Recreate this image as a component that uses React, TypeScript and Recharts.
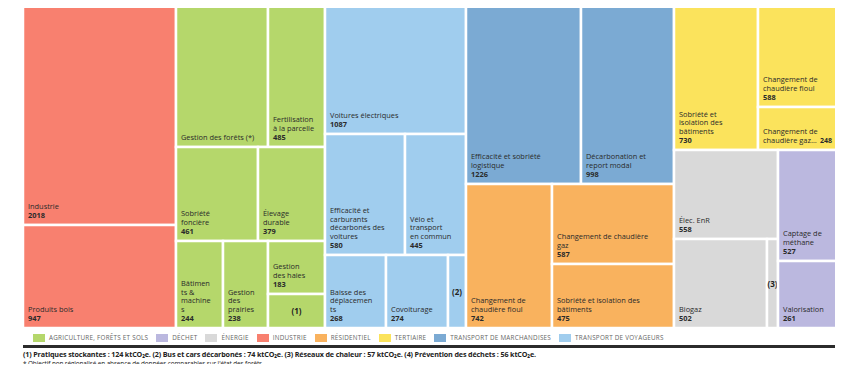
import React from 'react';
import { Treemap } from 'recharts';

// secteurs (légende) et couleurs
const sectorNames = ['AGRICULTURE, FORÊTS ET SOLS', 'DÉCHET', 'ÉNERGIE', 'INDUSTRIE', 'RÉSIDENTIEL', 'TERTIAIRE', 'TRANSPORT DE MARCHANDISES', 'TRANSPORT DE VOYAGEURS'];
const sectorColors = ['#b5d76b', '#bbb8df', '#d9d9d9', '#f8806f', '#f9b25e', '#fbe35c', '#7baad3', '#a0cdee'];

// leviers par secteur, ktCO2e
const industrieNames = ['Industrie', 'Produits bois'];
const industrieValues = [2018, 947];

const agriNames = ['Gestion des forêts (*)', 'Fertilisation\nà la parcelle', 'Sobriété\nfoncière', 'Élevage\ndurable', 'Bâtimen\nts &\nmachine\ns', 'Gestion\ndes\nprairies', 'Gestion\ndes haies', '(1)'];
const agriValues = [778, 485, 461, 379, 244, 238, 183, 124];

const voyageursNames = ['Voitures électriques', 'Efficacité et\ncarburants\ndécarbonés des\nvoitures', 'Vélo et\ntransport\nen commun', 'Baisse des\ndéplacemen\nts', 'Covoiturage', '(2)'];
const voyageursValues = [1087, 580, 445, 268, 274, 74];

const marchandisesNames = ['Efficacité et sobriété\nlogistique', 'Décarbonation et\nreport modal'];
const marchandisesValues = [1226, 998];

const residentielNames = ['Changement de\nchaudière fioul', 'Changement de chaudière\ngaz', 'Sobriété et isolation des\nbâtiments'];
const residentielValues = [742, 587, 475];

const tertiaireNames = ['Sobriété et\nisolation des\nbâtiments', 'Changement de\nchaudière fioul', 'Changement de\nchaudière gaz…'];
const tertiaireValues = [730, 588, 248];

const energieNames = ['Élec. EnR', 'Biogaz', '(3)'];
const energieValues = [558, 502, 57];

const dechetNames = ['Captage de\nméthane', 'Valorisation', '(4)'];
const dechetValues = [527, 261, 56];

const noValueLabels = ['Gestion des forêts (*)'];

const footnote1 = '(1) Pratiques stockantes : 124 ktCO₂e. (2) Bus et cars décarbonés : 74 ktCO₂e. (3) Réseaux de chaleur : 57 ktCO₂e. (4) Prévention des déchets : 56 ktCO₂e.';
const footnote2 = '* Objectif non régionalisé en absence de données comparables sur l\'état des forêts';

const leaf = (sector: number, names: string[], values: number[], i: number) => ({ name: names[i], value: values[i], sector });
const leaves = (sector: number, names: string[], values: number[]) => names.map((_, i) => leaf(sector, names, values, i));

const ag = (i: number) => leaf(0, agriNames, agriValues, i);
const vo = (i: number) => leaf(7, voyageursNames, voyageursValues, i);

// les groupes reprennent le découpage du visuel d'origine
const data = [
  { name: 'Industrie', children: leaves(3, industrieNames, industrieValues) },
  { name: 'Agriculture', children: [{ name: 'a1', children: [ag(0), ag(1)] }, { name: 'a2', children: [ag(2), ag(3)] }, ag(4), ag(5), ag(6), ag(7)] },
  { name: 'Voyageurs', children: [vo(0), { name: 'v1', children: [vo(1), vo(2)] }, vo(3), vo(4), vo(5)] },
  {
    name: 'm-r',
    children: [
      { name: 'Marchandises', children: leaves(6, marchandisesNames, marchandisesValues) },
      { name: 'Résidentiel', children: leaves(4, residentielNames, residentielValues) },
    ],
  },
  { name: 'Tertiaire', children: leaves(5, tertiaireNames, tertiaireValues) },
  { name: 'Énergie', children: leaves(2, energieNames, energieValues) },
  { name: 'Déchet', children: leaves(1, dechetNames, dechetValues) },
];

const FONT = "'Open Sans', 'Liberation Sans', sans-serif";

const CellContent = (props: any) => {
  const { x, y, width, height, children, name, value, sector } = props;
  if ((children && children.length) || sector === undefined) return null;
  const isNote = /^\(\d\)$/.test(name);
  const lines = String(name).split('\n');
  const showValue = !isNote && !noValueLabels.includes(name);
  const inline = showValue && height < 45;
  const n = lines.length + (showValue && !inline ? 1 : 0);
  const lh = 8.8;
  const last = y + height - 7;
  const first = last - (n - 1) * lh;
  return (
    <g>
      <rect x={x} y={y} width={width} height={height} fill={sectorColors[sector]} stroke="#fff" strokeWidth={2.5} />
      {isNote ? (
        <text x={x + width / 2} y={y + height / 2 + 3} textAnchor="middle" fontSize={8} fontWeight={700} fill="#222" fontFamily={FONT}>
          {name}
        </text>
      ) : (
        <text fontSize={7.4} fill="#2a2a2a" fontFamily={FONT}>
          {lines.map((l, i) => (
            <tspan key={i} x={x + 5} y={first + i * lh}>{l}</tspan>
          ))}
          {showValue && !inline && (
            <tspan x={x + 5} y={last} fontWeight={700}>{value}</tspan>
          )}
        </text>
      )}
      {inline && (
        <text x={x + 62} y={last} fontSize={7} fontWeight={700} fill="#2a2a2a" fontFamily={FONT}>{value}</text>
      )}
    </g>
  );
};

export default function App() {
  return (
    <div style={{ position: 'relative', width: 843, height: 372, margin: -8, overflow: 'hidden', background: '#fff', fontFamily: FONT }}>
      <div style={{ position: 'absolute', left: 23, top: 6 }}>
        <Treemap
          width={832}
          height={322}
          data={data}
          dataKey="value"
          aspectRatio={0.001}
          isAnimationActive={false}
          content={<CellContent />}
        />
      </div>
      <div style={{ position: 'absolute', left: 33, top: 333, display: 'flex', alignItems: 'center', fontSize: 6.3, letterSpacing: 0.25, color: '#666', whiteSpace: 'nowrap' }}>
        {sectorNames.map((s, i) => (
          <div key={s} style={{ display: 'flex', alignItems: 'center', marginRight: 8 }}>
            <span style={{ display: 'inline-block', width: 12, height: 8, background: sectorColors[i], marginRight: 4 }} />
            <span>{s}</span>
          </div>
        ))}
      </div>
      <div style={{ position: 'absolute', left: 23, top: 345, width: 820, height: 3, background: '#2b2b2b' }} />
      <div style={{ position: 'absolute', left: 23, top: 350, fontSize: 7.2, lineHeight: '9px', fontWeight: 700, color: '#222', whiteSpace: 'nowrap', letterSpacing: -0.15 }}>
        {footnote1}
      </div>
      <div style={{ position: 'absolute', left: 23, top: 360, fontSize: 6.4, lineHeight: '8px', color: '#222', whiteSpace: 'nowrap', letterSpacing: -0.1 }}>
        {footnote2}
      </div>
    </div>
  );
}
